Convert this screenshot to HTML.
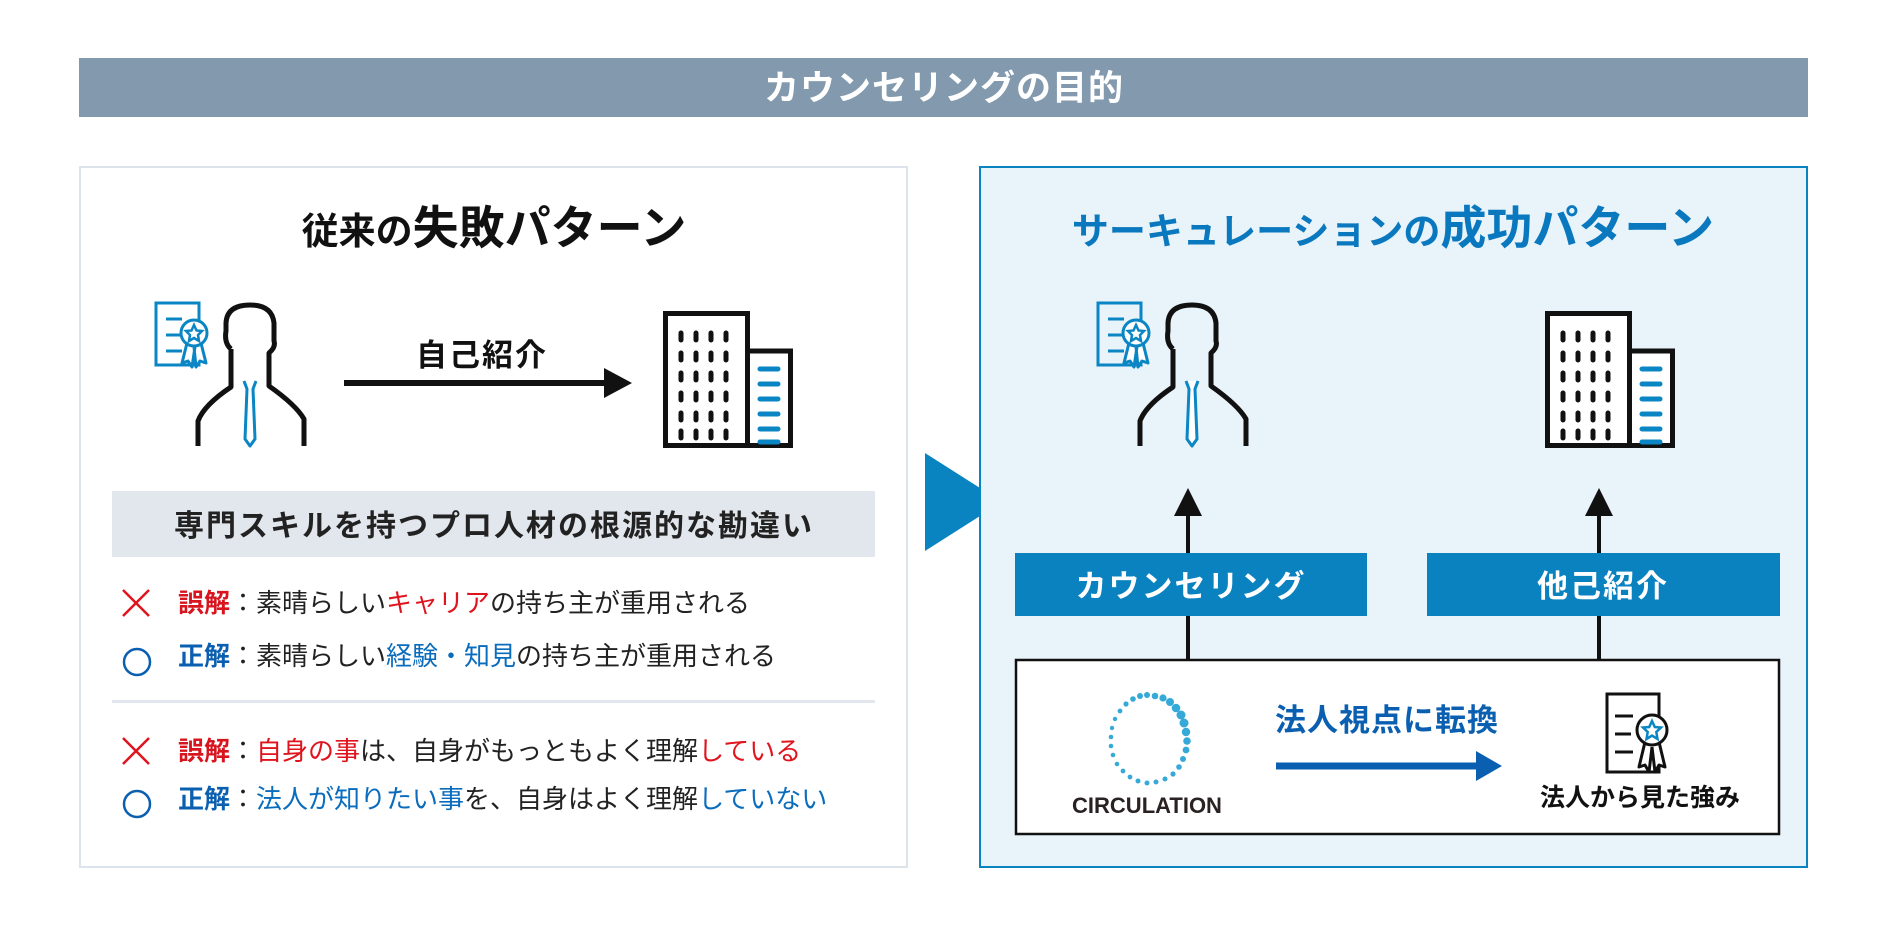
<!DOCTYPE html>
<html><head><meta charset="utf-8"><style>
html,body{margin:0;padding:0;background:#fff;}
svg{display:block;}
text{font-family:"Liberation Sans","Noto Sans CJK JP",sans-serif;}
</style></head><body>
<svg width="1888" height="944" viewBox="0 0 1888 944" xmlns="http://www.w3.org/2000/svg">
<defs>
<g id="person">
  <rect x="2" y="2" width="43" height="62" fill="none" stroke="#0a86c4" stroke-width="3"/>
  <line x1="12" y1="18" x2="28" y2="18" stroke="#0a86c4" stroke-width="3"/>
  <line x1="12" y1="34" x2="26" y2="34" stroke="#0a86c4" stroke-width="3"/>
  <line x1="12" y1="50" x2="28" y2="50" stroke="#0a86c4" stroke-width="3"/>
  <path d="M33 42 L28 62 L34 60 L38 66 L41 46 M47 42 L52 62 L46 60 L42 66 L40 46" fill="#fff" stroke="#0a86c4" stroke-width="3" stroke-linejoin="round"/>
  <circle cx="40" cy="32" r="13" fill="#fff" stroke="#0a86c4" stroke-width="3"/>
  <polygon points="40,24 42.5,29.5 48,30 44,34 45,40 40,37 35,40 36,34 32,30 37.5,29.5" fill="none" stroke="#0a86c4" stroke-width="2.5"/>
  <g transform="translate(24,0)">
  <path d="M53 48 Q46 42 48 30 L48 22 Q49 4 72 4 Q94 4 96 22 L96 40 Q98 46 91 52 L91 85 Q118 104 126 118 L126 145" fill="none" stroke="#111" stroke-width="5" stroke-linejoin="round"/>
  <path d="M53 48 L53 86 Q26 104 20 120 L20 145" fill="none" stroke="#111" stroke-width="5" stroke-linejoin="round"/>
  <path d="M66 80 L69 88 L67 138 L72 145 L77 138 L75 88 L78 80" fill="#fff" stroke="#0a86c4" stroke-width="3" stroke-linejoin="round"/>
  </g>
</g>
<g id="bldg">
  <rect x="2.5" y="2.5" width="82" height="132" fill="#fff" stroke="#111" stroke-width="5"/>
  <rect x="84.5" y="40" width="43" height="94.5" fill="#fff" stroke="#111" stroke-width="5"/>
  <g stroke="#111" stroke-width="5" stroke-linecap="round">
    <path d="M18 22v7M33 22v7M48 22v7M63 22v7 M18 42v7M33 42v7M48 42v7M63 42v7 M18 62v7M33 62v7M48 62v7M63 62v7 M18 82v7M33 82v7M48 82v7M63 82v7 M18 102v7M33 102v7M48 102v7M63 102v7 M18 120v7M33 120v7M48 120v7M63 120v7"/>
  </g>
  <g stroke="#0a86c4" stroke-width="5" stroke-linecap="round">
    <path d="M97 58h18M97 73h18M97 88h18M97 103h18M97 118h18M97 131h18"/>
  </g>
</g>
<g id="cert">
  <rect x="2" y="2" width="52" height="78" fill="#fff" stroke="#111" stroke-width="3"/>
  <line x1="10" y1="24" x2="28" y2="24" stroke="#111" stroke-width="3"/>
  <line x1="10" y1="42" x2="26" y2="42" stroke="#111" stroke-width="3"/>
  <line x1="10" y1="60" x2="28" y2="60" stroke="#111" stroke-width="3"/>
  <path d="M40 50 L34 75 L40 73 L44 80 L47 55 M54 50 L60 75 L54 73 L50 80 L47 55" fill="#fff" stroke="#111" stroke-width="3" stroke-linejoin="round"/>
  <circle cx="47" cy="38" r="15" fill="#fff" stroke="#111" stroke-width="3"/>
  <polygon points="47,29 49.8,35 56,35.5 51.3,40 52.5,47 47,43.6 41.5,47 42.7,40 38,35.5 44.2,35" fill="none" stroke="#0a86c4" stroke-width="2.5"/>
</g>
</defs>

<!-- header -->
<rect x="79" y="58" width="1729" height="59" fill="#8299ae"/>
<text x="944" y="100" text-anchor="middle" font-size="35" font-weight="bold" fill="#fff" letter-spacing="1">カウンセリングの目的</text>

<!-- left box -->
<rect x="80" y="167" width="827" height="700" fill="#fff" stroke="#dde3ea" stroke-width="2"/>
<text x="494" y="244" text-anchor="middle" font-weight="bold" fill="#111"><tspan font-size="37">従来の</tspan><tspan font-size="46">失敗パターン</tspan></text>
<use href="#person" x="154" y="301"/>
<line x1="344" y1="383" x2="610" y2="383" stroke="#111" stroke-width="6"/>
<polygon points="604,368 632,383 604,398" fill="#111"/>
<text x="482" y="366" text-anchor="middle" font-size="31" font-weight="bold" fill="#111" letter-spacing="2">自己紹介</text>
<use href="#bldg" x="663" y="311"/>

<rect x="112" y="491" width="763" height="66" fill="#e2e7ed"/>
<text x="494" y="536" text-anchor="middle" font-size="30" font-weight="bold" fill="#222" letter-spacing="2">専門スキルを持つプロ人材の根源的な勘違い</text>

<g font-size="26">
<path d="M123 590 L149 616 M149 590 L123 616" stroke="#e0141e" stroke-width="2.5"/>
<text x="178" y="612" fill="#222"><tspan fill="#d8141e" font-weight="bold">誤解</tspan>：素晴らしい<tspan fill="#e0141e">キャリア</tspan>の持ち主が重用される</text>
<circle cx="137" cy="662" r="13" fill="none" stroke="#0a5fb0" stroke-width="2.5"/>
<text x="178" y="665" fill="#222"><tspan fill="#0a5fb0" font-weight="bold">正解</tspan>：素晴らしい<tspan fill="#0a6cbc">経験・知見</tspan>の持ち主が重用される</text>
<rect x="112" y="700" width="763" height="3" fill="#e2e7ed"/>
<path d="M123 738 L149 764 M149 738 L123 764" stroke="#e0141e" stroke-width="2.5"/>
<text x="178" y="760" fill="#222"><tspan fill="#d8141e" font-weight="bold">誤解</tspan>：<tspan fill="#e0141e">自身の事</tspan>は、自身がもっともよく理解<tspan fill="#e0141e">している</tspan></text>
<circle cx="137" cy="804" r="13" fill="none" stroke="#0a5fb0" stroke-width="2.5"/>
<text x="178" y="808" fill="#222"><tspan fill="#0a5fb0" font-weight="bold">正解</tspan>：<tspan fill="#0a6cbc">法人が知りたい事</tspan>を、自身はよく理解<tspan fill="#0a6cbc">していない</tspan></text>
</g>

<!-- triangle -->
<polygon points="925,453 1002,502 925,551" fill="#0a84c1"/>

<!-- right box -->
<rect x="980" y="167" width="827" height="700" fill="#e8f3fa" stroke="#0a84c1" stroke-width="2"/>
<text x="1393" y="244" text-anchor="middle" font-weight="bold" fill="#0a78be"><tspan font-size="37">サーキュレーションの</tspan><tspan font-size="46">成功パターン</tspan></text>
<use href="#person" x="1096" y="301"/>
<use href="#bldg" x="1545" y="311"/>

<line x1="1188" y1="510" x2="1188" y2="660" stroke="#111" stroke-width="4"/>
<polygon points="1174,516 1188,488 1202,516" fill="#111"/>
<line x1="1599" y1="510" x2="1599" y2="660" stroke="#111" stroke-width="4"/>
<polygon points="1585,516 1599,488 1613,516" fill="#111"/>

<rect x="1015" y="553" width="352" height="63" fill="#0a82c0"/>
<text x="1191" y="597" text-anchor="middle" font-size="31" font-weight="bold" fill="#fff" letter-spacing="2">カウンセリング</text>
<rect x="1427" y="553" width="353" height="63" fill="#0a82c0"/>
<text x="1603" y="597" text-anchor="middle" font-size="31" font-weight="bold" fill="#fff" letter-spacing="2">他己紹介</text>

<rect x="1016" y="660" width="763" height="174" fill="#fff" stroke="#111" stroke-width="2.5"/>
<g fill="#35a9d8">
<circle cx="1147" cy="695" r="3"/><circle cx="1155" cy="696" r="3.3"/><circle cx="1163" cy="698" r="3.6"/><circle cx="1170" cy="702" r="4"/><circle cx="1176" cy="708" r="4.3"/><circle cx="1181" cy="715" r="4.5"/><circle cx="1184" cy="723" r="4.5"/><circle cx="1186" cy="732" r="4.2"/><circle cx="1187" cy="741" r="3.8"/><circle cx="1186" cy="750" r="3.4"/><circle cx="1183" cy="759" r="3"/><circle cx="1179" cy="767" r="2.8"/><circle cx="1173" cy="774" r="2.6"/><circle cx="1165" cy="779" r="2.5"/><circle cx="1156" cy="782" r="2.5"/><circle cx="1147" cy="783" r="2.5"/><circle cx="1138" cy="781" r="2.5"/><circle cx="1130" cy="777" r="2.4"/><circle cx="1123" cy="771" r="2.4"/><circle cx="1117" cy="764" r="2.3"/><circle cx="1113" cy="755" r="2.3"/><circle cx="1111" cy="746" r="2.3"/><circle cx="1111" cy="737" r="2.3"/><circle cx="1112" cy="728" r="2.2"/><circle cx="1115" cy="719" r="2.2"/><circle cx="1120" cy="711" r="2.4"/><circle cx="1126" cy="704" r="2.6"/><circle cx="1133" cy="699" r="2.8"/><circle cx="1140" cy="696" r="3"/>
</g>
<text x="1147" y="813" text-anchor="middle" font-size="22" font-weight="bold" fill="#2a2222">CIRCULATION</text>
<text x="1387" y="731" text-anchor="middle" font-size="31" font-weight="bold" fill="#0a5fb0" letter-spacing="1">法人視点に転換</text>
<line x1="1276" y1="766" x2="1482" y2="766" stroke="#0a5fb0" stroke-width="7"/>
<polygon points="1476,751 1502,766 1476,781" fill="#0a5fb0"/>
<use href="#cert" x="1605" y="692"/>
<text x="1640" y="806" text-anchor="middle" font-size="25" font-weight="bold" fill="#111">法人から見た強み</text>
</svg>
</body></html>
